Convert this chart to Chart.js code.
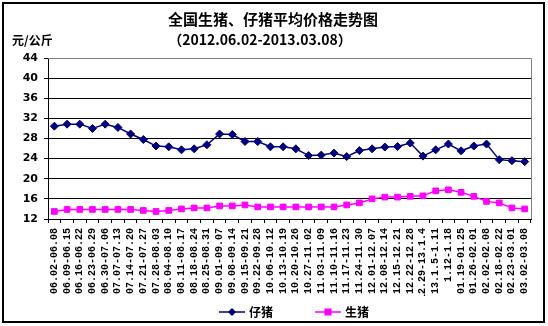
<!DOCTYPE html>
<html>
<head>
<meta charset="utf-8">
<script src="https://cdn.jsdelivr.net/npm/chart.js@4/dist/chart.umd.min.js"></script>
<style>
  html, body { margin: 0; padding: 0; background: #fff; }
  #wrap { width: 548px; height: 326px; position: relative; }
</style>
</head>
<body>
<div id="wrap"><canvas id="chart"></canvas></div>
<script>
// --- datos ---
const categories = [
  '06.02-06.08', '06.09-06.15', '06.16-06.22', '06.23-06.29', '06.30-07.06',
  '07.07-07.13', '07.14-07.20', '07.21-07.27', '07.28-08.03', '08.04-08.10',
  '08.11-08.17', '08.18-08.24', '08.25-08.31', '09.01-09.07', '09.08-09.14',
  '09.15-09.21', '09.22-09.28', '10.06-10.12', '10.13-10.19', '10.20-10.26',
  '10.27-11.02', '11.03-11.09', '11.10-11.16', '11.17-11.23', '11.24-11.30',
  '12.01-12.07', '12.08-12.14', '12.15-12.21', '12.22-12.28', '12.29-13.1.4',
  '13.1.5-1.11', '1.12-1.18', '01.19-01.25', '01.26-02.01', '02.02-02.08',
  '02.18-02.22', '02.23-03.01', '03.02-03.08'
];

// 仔猪
const piglet = [
  30.45, 30.85, 30.85, 30.0, 30.85, 30.2, 28.9, 27.8, 26.5, 26.35,
  25.75, 25.95, 26.75, 28.9, 28.8, 27.4, 27.4, 26.35, 26.35, 25.95,
  24.6, 24.7, 25.1, 24.4, 25.6, 25.95, 26.3, 26.4, 27.1, 24.5,
  25.75, 26.9, 25.55, 26.5, 26.9, 23.8, 23.6, 23.4
];

// 生猪
const hog = [
  13.5, 13.9, 13.9, 13.9, 13.9, 13.9, 13.9, 13.7, 13.5, 13.7,
  14.0, 14.2, 14.2, 14.6, 14.6, 14.8, 14.4, 14.4, 14.4, 14.4,
  14.4, 14.4, 14.4, 14.8, 15.2, 16.0, 16.35, 16.35, 16.5, 16.6,
  17.6, 17.8, 17.3, 16.5, 15.5, 15.2, 14.2, 14.0
];

const yMin = 12, yMax = 44, yStep = 4;

const CJK = '"Noto Sans CJK SC", "DejaVu Sans", sans-serif';
const NUM = '"DejaVu Sans", "Noto Sans CJK SC", sans-serif';

// --- marco, títulos y leyenda ---
const decor = {
  id: 'decor',
  beforeDraw(chart) {
    const ctx = chart.ctx;
    ctx.save();
    ctx.fillStyle = '#fff';
    ctx.fillRect(0, 0, chart.width, chart.height);
    ctx.restore();
  },
  afterDraw(chart) {
    const ctx = chart.ctx;
    const area = chart.chartArea;
    ctx.save();

    // borde del área de trazado (arriba y derecha en gris)
    ctx.strokeStyle = '#808080';
    ctx.lineWidth = 1;
    ctx.beginPath();
    ctx.moveTo(area.left, Math.round(area.top) + 0.5);
    ctx.lineTo(Math.round(area.right) + 0.5, Math.round(area.top) + 0.5);
    ctx.lineTo(Math.round(area.right) + 0.5, area.bottom);
    ctx.stroke();

    // borde exterior
    ctx.strokeStyle = '#000';
    ctx.lineWidth = 2;
    ctx.strokeRect(3, 3, 541, 319);

    // títulos
    ctx.fillStyle = '#000';
    ctx.textAlign = 'center';
    ctx.textBaseline = 'middle';
    ctx.font = 'bold 15px ' + CJK;
    ctx.fillText('全国生猪、仔猪平均价格走势图', 273, 19);
    ctx.font = 'bold 14px ' + CJK;
    ctx.fillText('（2012.06.02-2013.03.08）', 260, 40);

    ctx.textAlign = 'left';
    ctx.font = 'bold 12px ' + CJK;
    ctx.fillText('元/公斤', 12, 40);

    // leyenda
    const y = 312;
    ctx.font = 'bold 12px ' + CJK;
    const items = chart.data.datasets.map(ds => ({
      ds, w: 26 + 4 + ctx.measureText(ds.label).width
    }));
    const gap = 42;
    const total = items.reduce((s, it) => s + it.w, 0) + gap * (items.length - 1);
    let x = 294 - total / 2;
    items.forEach(it => {
      const ds = it.ds;
      ctx.strokeStyle = ds.borderColor;
      ctx.lineWidth = 1.5;
      ctx.beginPath();
      ctx.moveTo(x, y);
      ctx.lineTo(x + 26, y);
      ctx.stroke();
      const cx = x + 13;
      ctx.fillStyle = ds.pointBackgroundColor;
      if (ds.pointStyle === 'rectRot') {
        ctx.beginPath();
        ctx.moveTo(cx, y - 4);
        ctx.lineTo(cx + 4, y);
        ctx.lineTo(cx, y + 4);
        ctx.lineTo(cx - 4, y);
        ctx.closePath();
        ctx.fill();
      } else {
        ctx.fillRect(cx - 3.5, y - 3.5, 7, 7);
      }
      ctx.fillStyle = '#000';
      ctx.textAlign = 'left';
      ctx.fillText(ds.label, x + 30, y);
      x += it.w + gap;
    });

    ctx.restore();
  }
};

new Chart(document.getElementById('chart'), {
  type: 'line',
  data: {
    labels: categories,
    datasets: [
      {
        label: '仔猪',
        data: piglet,
        borderColor: '#000080',
        backgroundColor: '#000080',
        pointBackgroundColor: '#000080',
        pointBorderColor: '#000080',
        borderWidth: 1.5,
        pointStyle: 'rectRot',
        pointRadius: 4,
        pointBorderWidth: 1,
        tension: 0
      },
      {
        label: '生猪',
        data: hog,
        borderColor: '#FF00FF',
        backgroundColor: '#FF00FF',
        pointBackgroundColor: '#FF00FF',
        pointBorderColor: '#FF00FF',
        borderWidth: 1.5,
        pointStyle: 'rect',
        pointRadius: 4,
        pointBorderWidth: 1,
        tension: 0
      }
    ]
  },
  options: {
    responsive: true,
    maintainAspectRatio: false,
    animation: false,
    layout: { padding: { left: 5, right: 17, top: 58, bottom: 30 } },
    plugins: {
      legend: { display: false },
      title: { display: false },
      tooltip: { enabled: false }
    },
    scales: {
      x: {
        offset: true,
        grid: {
          display: true,
          offset: true,
          drawOnChartArea: false,
          drawTicks: true,
          tickLength: 4,
          color: '#000'
        },
        border: { display: true, color: '#000', width: 1 },
        ticks: {
          autoSkip: false,
          maxRotation: 90,
          minRotation: 90,
          padding: 5,
          color: '#000',
          font: { family: '"Liberation Mono", "DejaVu Sans Mono", monospace', size: 10, weight: 'bold' }
        },
        afterFit(scale) { scale.height = 77; }
      },
      y: {
        min: yMin,
        max: yMax,
        ticks: {
          stepSize: yStep,
          padding: 6,
          color: '#000',
          font: { family: NUM, size: 11, weight: 'bold' }
        },
        grid: {
          color: '#000',
          lineWidth: 1,
          drawTicks: true,
          tickLength: 4
        },
        border: { display: true, color: '#000', width: 1 },
        afterFit(scale) { scale.width = 43; }
      }
    }
  },
  plugins: [decor]
});
</script>
</body>
</html>
